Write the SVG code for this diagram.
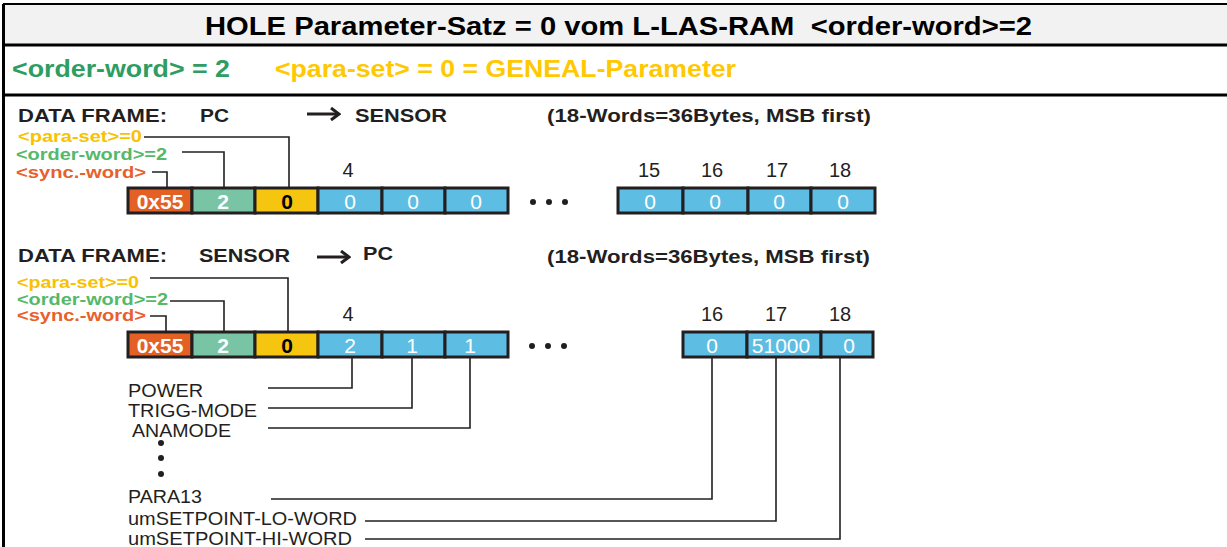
<svg xmlns="http://www.w3.org/2000/svg" width="1227" height="547" viewBox="0 0 1227 547">
<style>
text{font-family:"Liberation Sans",Arial,sans-serif;}
.title{font-size:26px;font-weight:bold;fill:#000;}
.sub{font-size:23px;font-weight:bold;}
.hdr{font-size:18px;font-weight:bold;fill:#231f20;}
.lbl{font-size:16px;font-weight:bold;}
.ylw{fill:#f9c200;}
.grn{fill:#55b86a;}
.org{fill:#e8602c;}
.num{font-size:20px;fill:#231f20;text-anchor:middle;}
.name{font-size:18px;fill:#231f20;}
.bx{stroke:#231f20;stroke-width:3;}
.cO{fill:#e46125;}
.cT{fill:#7ac4a6;}
.cY{fill:#f5c50f;}
.cB{fill:#5ebde3;}
.bt{font-size:21px;text-anchor:middle;fill:#fff;}
.btb{font-size:21px;font-weight:bold;text-anchor:middle;}
.rule{stroke:#000;fill:none;}
.conn{stroke:#231f20;stroke-width:1.6;fill:none;}
.arr{stroke:#231f20;stroke-width:3;fill:none;}
.dot{fill:#231f20;}
</style>
<defs>
<marker id="chev" viewBox="0 0 12 14" refX="10" refY="7" markerWidth="12" markerHeight="14" markerUnits="userSpaceOnUse" orient="auto">
<path d="M2 1 L10 7 L2 13" fill="none" stroke="#231f20" stroke-width="3"/>
</marker>
</defs>

<g id="frame">
<rect x="3" y="4" width="1224" height="41" fill="#f2f2f2"/>
<line class="rule" x1="3" y1="4" x2="1227" y2="4" stroke-width="2"/>
<line class="rule" x1="3" y1="45" x2="1227" y2="45" stroke-width="3"/>
<line class="rule" x1="3" y1="95" x2="1227" y2="95" stroke-width="3"/>
<line class="rule" x1="3.5" y1="4" x2="3.5" y2="547" stroke-width="3"/>
</g>

<g id="title">
<text class="title" x="205" y="35" textLength="827" lengthAdjust="spacingAndGlyphs" xml:space="preserve">HOLE Parameter-Satz = 0 vom L-LAS-RAM  &lt;order-word&gt;=2</text>
</g>
<g id="subtitle">
<text class="sub" x="12" y="77" fill="#2e9d62" textLength="218" lengthAdjust="spacingAndGlyphs">&lt;order-word&gt; = 2</text>
<text class="sub" x="275" y="77" fill="#ffc800" textLength="461" lengthAdjust="spacingAndGlyphs">&lt;para-set&gt; = 0 = GENEAL-Parameter</text>
</g>

<g id="frame1-header">
<text class="hdr" x="18" y="122" textLength="149" lengthAdjust="spacingAndGlyphs">DATA FRAME:</text>
<text class="hdr" x="200" y="122" textLength="29" lengthAdjust="spacingAndGlyphs">PC</text>
<text class="hdr" x="355" y="122" textLength="92" lengthAdjust="spacingAndGlyphs">SENSOR</text>
<text class="hdr" x="547" y="122" textLength="324" lengthAdjust="spacingAndGlyphs">(18-Words=36Bytes, MSB first)</text>
</g>
<g id="frame1-labels">
<text class="lbl ylw" x="18" y="142" textLength="124" lengthAdjust="spacingAndGlyphs">&lt;para-set&gt;=0</text>
<text class="lbl grn" x="16" y="160" textLength="151" lengthAdjust="spacingAndGlyphs">&lt;order-word&gt;=2</text>
<text class="lbl org" x="16" y="178" textLength="130" lengthAdjust="spacingAndGlyphs">&lt;sync.-word&gt;</text>
</g>
<g id="frame1-numbers">
<text class="num" x="348" y="177">4</text>
<text class="num" x="649" y="177">15</text>
<text class="num" x="712" y="177">16</text>
<text class="num" x="777" y="177">17</text>
<text class="num" x="840" y="177">18</text>
</g>
<g id="frame1-boxes">
<g id="f1-w1"><rect class="bx cO" x="128" y="188" width="64" height="25"/><text class="btb" x="160" y="209" fill="#fff">0x55</text></g>
<g id="f1-w2"><rect class="bx cT" x="192" y="188" width="63" height="25"/><text class="btb" x="223" y="209" fill="#fff">2</text></g>
<g id="f1-w3"><rect class="bx cY" x="255" y="188" width="63" height="25"/><text class="btb" x="287" y="209" fill="#000">0</text></g>
<g id="f1-w4"><rect class="bx cB" x="318" y="188" width="64" height="25"/><text class="bt" x="350" y="209">0</text></g>
<g id="f1-w5"><rect class="bx cB" x="382" y="188" width="63" height="25"/><text class="bt" x="413" y="209">0</text></g>
<g id="f1-w6"><rect class="bx cB" x="445" y="188" width="63" height="25"/><text class="bt" x="476" y="209">0</text></g>
<g id="f1-dots"><circle class="dot" cx="533" cy="202" r="3"/><circle class="dot" cx="549" cy="202" r="3"/><circle class="dot" cx="565" cy="202" r="3"/></g>
<g id="f1-w15"><rect class="bx cB" x="618" y="188" width="65" height="25"/><text class="bt" x="650" y="209">0</text></g>
<g id="f1-w16"><rect class="bx cB" x="683" y="188" width="65" height="25"/><text class="bt" x="715" y="209">0</text></g>
<g id="f1-w17"><rect class="bx cB" x="748" y="188" width="63" height="25"/><text class="bt" x="779" y="209">0</text></g>
<g id="f1-w18"><rect class="bx cB" x="811" y="188" width="64" height="25"/><text class="bt" x="843" y="209">0</text></g>
</g>

<g id="frame2-header">
<text class="hdr" x="18" y="262" textLength="149" lengthAdjust="spacingAndGlyphs">DATA FRAME:</text>
<text class="hdr" x="199" y="262" textLength="91" lengthAdjust="spacingAndGlyphs">SENSOR</text>
<text class="hdr" x="363" y="260" textLength="30" lengthAdjust="spacingAndGlyphs">PC</text>
<text class="hdr" x="547" y="263" textLength="323" lengthAdjust="spacingAndGlyphs">(18-Words=36Bytes, MSB first)</text>
</g>
<g id="frame2-labels">
<text class="lbl ylw" x="17" y="288" textLength="122" lengthAdjust="spacingAndGlyphs">&lt;para-set&gt;=0</text>
<text class="lbl grn" x="17" y="305" textLength="151" lengthAdjust="spacingAndGlyphs">&lt;order-word&gt;=2</text>
<text class="lbl org" x="17" y="321" textLength="129" lengthAdjust="spacingAndGlyphs">&lt;sync.-word&gt;</text>
</g>
<g id="frame2-numbers">
<text class="num" x="348" y="321">4</text>
<text class="num" x="712" y="321">16</text>
<text class="num" x="776" y="321">17</text>
<text class="num" x="840" y="321">18</text>
</g>
<g id="frame2-boxes">
<g id="f2-w1"><rect class="bx cO" x="128" y="332" width="64" height="25"/><text class="btb" x="160" y="353" fill="#fff">0x55</text></g>
<g id="f2-w2"><rect class="bx cT" x="192" y="332" width="63" height="25"/><text class="btb" x="223" y="353" fill="#fff">2</text></g>
<g id="f2-w3"><rect class="bx cY" x="255" y="332" width="63" height="25"/><text class="btb" x="287" y="353" fill="#000">0</text></g>
<g id="f2-w4"><rect class="bx cB" x="318" y="332" width="64" height="25"/><text class="bt" x="350" y="353">2</text></g>
<g id="f2-w5"><rect class="bx cB" x="382" y="332" width="63" height="25"/><text class="bt" x="412" y="353">1</text></g>
<g id="f2-w6"><rect class="bx cB" x="445" y="332" width="63" height="25"/><text class="bt" x="470" y="353">1</text></g>
<g id="f2-dots"><circle class="dot" cx="532" cy="346" r="3"/><circle class="dot" cx="548" cy="346" r="3"/><circle class="dot" cx="564" cy="346" r="3"/></g>
<g id="f2-w16"><rect class="bx cB" x="683" y="332" width="64" height="25"/><text class="bt" x="712" y="353">0</text></g>
<g id="f2-w17"><rect class="bx cB" x="747" y="332" width="74" height="25"/><text class="bt" x="781" y="353">51000</text></g>
<g id="f2-w18"><rect class="bx cB" x="821" y="332" width="52" height="25"/><text class="bt" x="849" y="353">0</text></g>
</g>

<g id="param-names">
<text class="name" x="128" y="397" textLength="75" lengthAdjust="spacingAndGlyphs">POWER</text>
<text class="name" x="128" y="417" textLength="129" lengthAdjust="spacingAndGlyphs">TRIGG-MODE</text>
<text class="name" x="132" y="437" textLength="99" lengthAdjust="spacingAndGlyphs">ANAMODE</text>
<circle class="dot" cx="161" cy="443" r="3"/>
<circle class="dot" cx="161" cy="458" r="3"/>
<circle class="dot" cx="161" cy="474" r="3"/>
<text class="name" x="128" y="503" textLength="74" lengthAdjust="spacingAndGlyphs">PARA13</text>
<text class="name" x="128" y="525" textLength="229" lengthAdjust="spacingAndGlyphs">umSETPOINT-LO-WORD</text>
<text class="name" x="128" y="545" textLength="224" lengthAdjust="spacingAndGlyphs">umSETPOINT-HI-WORD</text>
</g>

<g id="connectors">
<line class="arr" x1="307" y1="114" x2="339" y2="114" marker-end="url(#chev)"/>
<line class="arr" x1="317" y1="257" x2="349" y2="257" marker-end="url(#chev)"/>
<polyline class="conn" points="144,137 289,137 289,188"/>
<polyline class="conn" points="182,152 224,152 224,188"/>
<polyline class="conn" points="152,172 167,172 167,188"/>
<polyline class="conn" points="150,278 288,278 288,332"/>
<polyline class="conn" points="170,301 224,301 224,332"/>
<polyline class="conn" points="150,316 166,316 166,332"/>
<polyline class="conn" points="268,388 352,388 352,357"/>
<polyline class="conn" points="268,408 412,408 412,357"/>
<polyline class="conn" points="268,428 470,428 470,357"/>
<polyline class="conn" points="271,499 712,499 712,357"/>
<polyline class="conn" points="365,521 776,521 776,357"/>
<polyline class="conn" points="365,539 840,539 840,357"/>
</g>
</svg>
